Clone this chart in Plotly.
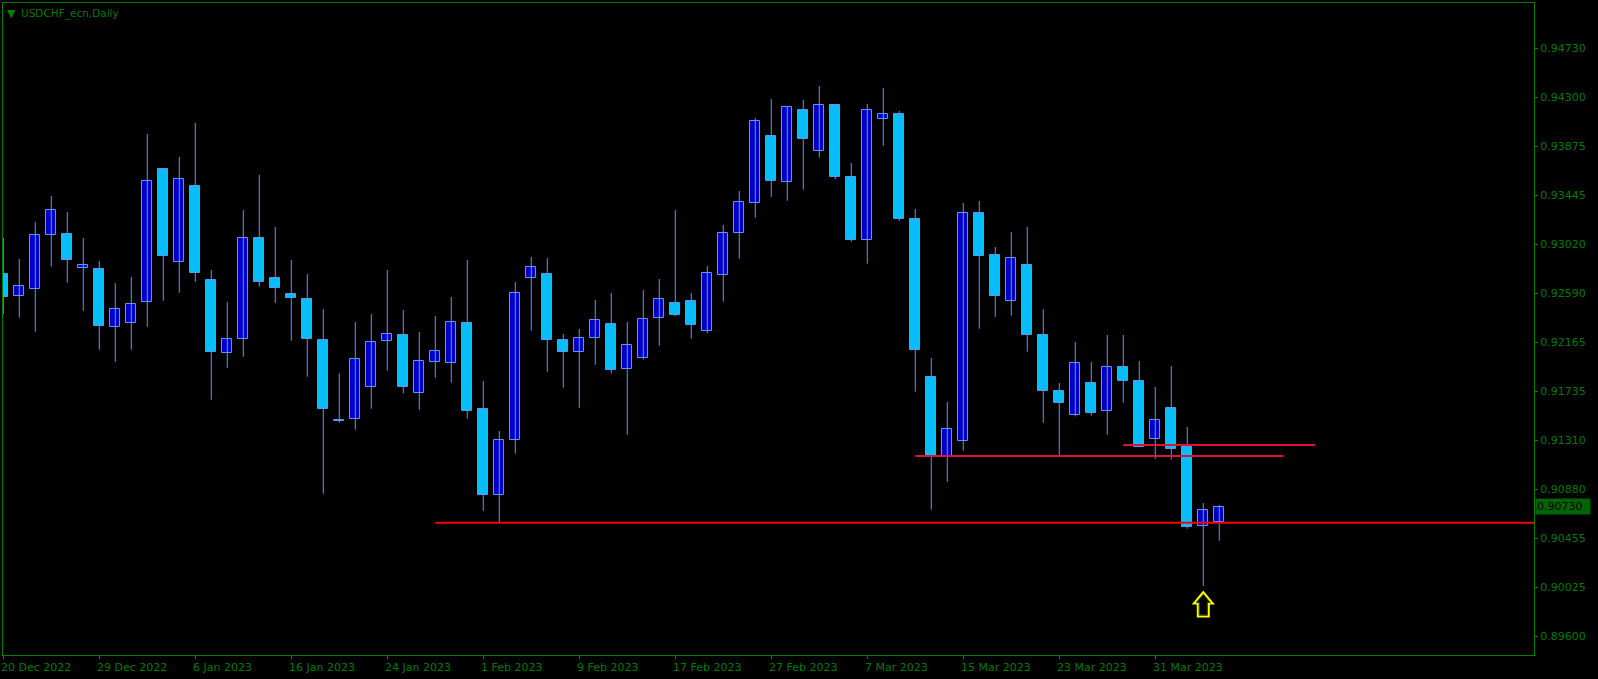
import plotly.graph_objects as go

# ---------------- data ----------------
opens = [0.92761, 0.92566, 0.92627, 0.93099, 0.93107, 0.92811, 0.92802, 0.92296, 0.92331, 0.92514,
         0.93674, 0.92863, 0.93526, 0.92706, 0.92069, 0.92191, 0.93072, 0.92726, 0.92584, 0.92540,
         0.92182, 0.91484, 0.91498, 0.91778, 0.92174, 0.92229, 0.91720, 0.91996, 0.91987, 0.92331,
         0.91580, 0.90830, 0.91310, 0.92723, 0.92758, 0.92185, 0.92078, 0.92200, 0.92325, 0.91929,
         0.92025, 0.92374, 0.92505, 0.92523, 0.92261, 0.92750, 0.93116, 0.93378, 0.93962, 0.93561,
         0.94192, 0.93831, 0.94233, 0.93605, 0.93058, 0.94111, 0.94154, 0.93238, 0.91860, 0.91173,
         0.91301, 0.93290, 0.92924, 0.92523, 0.92837, 0.92226, 0.91738, 0.91528, 0.91807, 0.91563,
         0.91947, 0.91825, 0.91319, 0.91589, 0.91249, 0.90560, 0.90595]
highs = [0.93075, 0.92892, 0.93215, 0.93441, 0.93302, 0.93075, 0.92874, 0.92682, 0.92735, 0.93982,
         0.93680, 0.93782, 0.94078, 0.92796, 0.92517, 0.93319, 0.93625, 0.93171, 0.92883, 0.92761,
         0.92455, 0.91894, 0.92342, 0.92412, 0.92796, 0.92447, 0.92255, 0.92394, 0.92560, 0.92883,
         0.91827, 0.91391, 0.92691, 0.92909, 0.92900, 0.92237, 0.92281, 0.92534, 0.92595, 0.92342,
         0.92621, 0.92717, 0.93319, 0.92595, 0.92831, 0.93188, 0.93485, 0.94122, 0.94288, 0.94227,
         0.94279, 0.94401, 0.94236, 0.93729, 0.94244, 0.94384, 0.94183, 0.93328, 0.92028, 0.91644,
         0.93380, 0.93398, 0.92996, 0.93127, 0.93171, 0.92455, 0.91810, 0.92168, 0.91993, 0.92229,
         0.92229, 0.92002, 0.91775, 0.91958, 0.91426, 0.90763, 0.90746]
lows = [0.92409, 0.92380, 0.92257, 0.92825, 0.92685, 0.92441, 0.92100, 0.91996, 0.92100, 0.92301,
        0.92528, 0.92598, 0.92694, 0.91664, 0.91943, 0.92039, 0.92650, 0.92510, 0.92179, 0.91865,
        0.90844, 0.91464, 0.91402, 0.91586, 0.91917, 0.91720, 0.91577, 0.91856, 0.91813, 0.91498,
        0.90696, 0.90595, 0.91193, 0.92266, 0.91908, 0.91769, 0.91594, 0.91970, 0.91894, 0.91359,
        0.92015, 0.92135, 0.92394, 0.92196, 0.92244, 0.92519, 0.92894, 0.93252, 0.93435, 0.93400,
        0.93496, 0.93776, 0.93587, 0.93043, 0.92851, 0.93880, 0.93226, 0.91734, 0.90705, 0.90949,
        0.91219, 0.92284, 0.92388, 0.92397, 0.92083, 0.91464, 0.91173, 0.91518, 0.91525, 0.91359,
        0.91638, 0.91249, 0.91149, 0.91141, 0.90539, 0.90041, 0.90434]
closes = [0.92558, 0.92656, 0.93099, 0.93317, 0.92880, 0.92837, 0.92305, 0.92453, 0.92497, 0.93570,
          0.92921, 0.93587, 0.92767, 0.92083, 0.92191, 0.93072, 0.92694, 0.92636, 0.92549, 0.92191,
          0.91580, 0.91478, 0.92017, 0.92165, 0.92237, 0.91778, 0.91999, 0.92087, 0.92340, 0.91568,
          0.90830, 0.91310, 0.92593, 0.92819, 0.92182, 0.92083, 0.92200, 0.92357, 0.91926, 0.92139,
          0.92368, 0.92540, 0.92401, 0.92313, 0.92767, 0.93116, 0.93386, 0.94093, 0.93570, 0.94215,
          0.93936, 0.94233, 0.93605, 0.93058, 0.94189, 0.94154, 0.93238, 0.92100, 0.91162, 0.91406,
          0.93290, 0.92921, 0.92566, 0.92898, 0.92226, 0.91738, 0.91633, 0.91982, 0.91546, 0.91947,
          0.91830, 0.91254, 0.91484, 0.91231, 0.90556, 0.90699, 0.90730]

tick_bars = [0, 6, 12, 18, 24, 30, 36, 42, 48, 54, 60, 66, 72]
tick_labels = ["20 Dec 2022", "29 Dec 2022", "6 Jan 2023", "16 Jan 2023", "24 Jan 2023",
               "1 Feb 2023", "9 Feb 2023", "17 Feb 2023", "27 Feb 2023", "7 Mar 2023",
               "15 Mar 2023", "23 Mar 2023", "31 Mar 2023"]

price_ticks = [0.89600, 0.90025, 0.90455, 0.90880, 0.91310, 0.91735, 0.92165,
               0.92590, 0.93020, 0.93445, 0.93875, 0.94300, 0.94730]

level_prices = [0.90591, 0.91173, 0.91269]
level_start = [27, 57, 70]
level_end = [None, 80, 82]          # None = to the right edge
level_colors = ["#FF0000", "#DC143C", "#DC143C"]

arrow_bar = 75
arrow_price = 0.89877

symbol_title = "USDCHF_ecn,Daily"

# ---------------- styling ----------------
BULL = "#0000CD"
BEAR = "#00BFFF"
OUTLINE = "#6495ED"
GREEN = "#008000"
TXT = "#007A00"
X_RANGE = [-0.019, 95.67]
Y_RANGE = [0.89437, 0.95125]

idx = list(range(len(opens)))
bull_i = [i for i in idx if closes[i] >= opens[i]]
bear_i = [i for i in idx if closes[i] < opens[i]]

fig = go.Figure()

# wicks
wx, wy = [], []
for i in idx:
    wx += [i, i, None]
    wy += [lows[i], highs[i], None]
fig.add_trace(go.Scatter(x=wx, y=wy, mode="lines", line=dict(color=OUTLINE, width=1),
                         hoverinfo="skip", showlegend=False))

for sel, col in ((bull_i, BULL), (bear_i, BEAR)):
    fig.add_trace(go.Bar(
        x=sel,
        y=[abs(closes[i] - opens[i]) for i in sel],
        base=[min(opens[i], closes[i]) for i in sel],
        width=0.62,
        marker=dict(color=col, line=dict(color=OUTLINE, width=1)),
        showlegend=False, hoverinfo="skip"))

# horizontal levels
for p, s, e, c in zip(level_prices, level_start, level_end, level_colors):
    fig.add_shape(type="line", xref="x", yref="y", x0=s, x1=(X_RANGE[1] if e is None else e),
                  y0=p, y1=p, line=dict(color=c, width=2))

# signal arrow (outlined up-arrow symbol anchored at the signal bar/price)
fig.add_shape(type="path", xref="x", yref="y", xsizemode="pixel", ysizemode="pixel",
              xanchor=arrow_bar, yanchor=arrow_price,
              path="M 0 12.5 L 9.5 1 L 5.5 1 L 5.5 -12 L -5.5 -12 L -5.5 1 L -9.5 1 Z",
              line=dict(color="#FFFF00", width=2), fillcolor="#000000")
fig.add_shape(type="path", xref="x", yref="y", xsizemode="pixel", ysizemode="pixel",
              xanchor=arrow_bar, yanchor=arrow_price,
              path="M 0 10 L 7 2 L 4 2 L 4 -10.5 L -4 -10.5 L -4 2 L -7 2 Z",
              line=dict(color="#3A5A00", width=1), fillcolor="rgba(0,0,0,0)")

# x tick labels (left-aligned at tick marks like MT4)
for b, lab in zip(tick_bars, tick_labels):
    fig.add_annotation(x=b, xref="x", y=0, yref="paper", text=lab, showarrow=False,
                       xanchor="left", yanchor="middle", xshift=-4, yshift=-12,
                       font=dict(family="DejaVu Sans", size=11, color=TXT))

# current price label
fig.add_annotation(x=1, xref="paper", y=closes[-1], yref="y", text=f"{closes[-1]:.5f}",
                   showarrow=False, xanchor="left", yanchor="middle", xshift=1,
                   bgcolor="#006400", borderpad=1, width=52, align="left",
                   font=dict(family="DejaVu Sans", size=11, color="#000000"))

# title
fig.add_annotation(x=0, xref="paper", y=1, yref="paper", text="▼", showarrow=False,
                   xanchor="left", yanchor="middle", xshift=2, yshift=-10,
                   font=dict(family="DejaVu Sans", size=11, color=GREEN))
fig.add_annotation(x=0, xref="paper", y=1, yref="paper", text=symbol_title, showarrow=False,
                   xanchor="left", yanchor="middle", xshift=16, yshift=-10,
                   font=dict(family="DejaVu Sans", size=10.5, color=TXT))

fig.update_layout(
    width=1598, height=679, autosize=False,
    margin=dict(l=3, r=64, t=3, b=24, pad=0),
    paper_bgcolor="#000000", plot_bgcolor="#000000",
    barmode="overlay", bargap=0, showlegend=False,
    font=dict(family="DejaVu Sans", size=11, color=TXT),
)
fig.update_xaxes(range=X_RANGE, showgrid=False, zeroline=False,
                 tickmode="array", tickvals=tick_bars, ticktext=[""] * len(tick_bars),
                 ticks="outside", ticklen=3, tickcolor=GREEN,
                 showline=True, linecolor=GREEN, linewidth=1, mirror=True)
fig.update_yaxes(range=Y_RANGE, side="right", showgrid=False, zeroline=False,
                 tickmode="array", tickvals=price_ticks,
                 ticktext=[f"{v:.5f}" for v in price_ticks],
                 ticks="outside", ticklen=3, tickcolor=GREEN,
                 tickfont=dict(family="DejaVu Sans", size=11, color=TXT),
                 showline=True, linecolor=GREEN, linewidth=1, mirror=True)

fig.write_html("out.html", config={"displayModeBar": False},
               post_script="document.body.style.margin='0';")
